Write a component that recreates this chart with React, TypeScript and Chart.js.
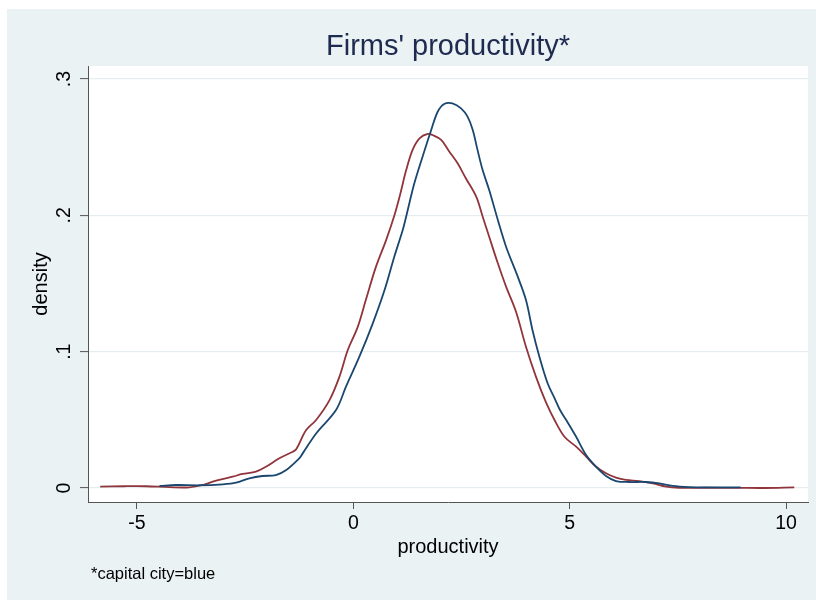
import React, { useEffect, useRef } from "react";
import { Chart, registerables } from "chart.js";

Chart.register(...registerables);

const chartTitle = "Firms' productivity*";
const xAxisTitle = "productivity";
const yAxisTitle = "density";
const noteText = "*capital city=blue";

const xTickValues = [-5, 0, 5, 10];
const xTickLabels = ["-5", "0", "5", "10"];
const yTickValues = [0, 0.1, 0.2, 0.3];
const yTickLabels = ["0", ".1", ".2", ".3"];

// capital city (blue)
const capitalX = [
  -4.48, -4.1, -3.56, -3.02, -2.71, -2.4, -2.1, -1.79, -1.56, -1.25, -1.17, -0.86, -0.4, -0.17, 0.14, 0.45,
  0.72, 0.95, 1.14, 1.22, 1.41, 1.6, 1.8, 1.95, 2.1, 2.29, 2.49, 2.64, 2.76, 2.87, 2.99, 3.14, 3.34, 3.53,
  3.8, 3.99, 4.14, 4.3, 4.49, 4.65, 4.78, 4.92, 5.15, 5.38, 5.61, 5.84, 6.07, 6.38, 6.76, 7.07, 7.38, 7.77,
  8.3, 8.95,
];
const capitalY = [
  0.0015, 0.0022, 0.002, 0.0027, 0.0039, 0.0071, 0.0088, 0.0095, 0.013, 0.0218, 0.0254, 0.04, 0.0572, 0.0743,
  0.0963, 0.1208, 0.145, 0.17, 0.189, 0.199, 0.2235, 0.243, 0.2626, 0.276, 0.2817, 0.2822, 0.2785, 0.2724,
  0.2626, 0.248, 0.233, 0.2186, 0.1966, 0.177, 0.155, 0.1379, 0.1159, 0.0963, 0.0768, 0.066, 0.057, 0.0499,
  0.0376, 0.0242, 0.0156, 0.0088, 0.0051, 0.0044, 0.0044, 0.0034, 0.0015, 0.0007, 0.0005, 0.0005,
];

// other cities (red)
const otherX = [
  -5.85, -5.3, -4.79, -4.25, -3.79, -3.48, -3.17, -2.79, -2.56, -2.25, -2.02, -1.71, -1.4, -1.32, -1.09,
  -0.86, -0.55, -0.32, -0.13, 0.1, 0.29, 0.52, 0.76, 0.95, 1.08, 1.22, 1.37, 1.53, 1.72, 1.83, 2.03, 2.22,
  2.41, 2.6, 2.84, 2.99, 3.14, 3.34, 3.53, 3.76, 3.99, 4.22, 4.45, 4.65, 4.88, 5.15, 5.38, 5.61, 5.84, 6.07,
  6.3, 6.61, 6.92, 7.23, 7.53, 8.15, 8.9, 9.5, 10.19,
];
const otherY = [
  0.001, 0.0013, 0.0013, 0.0006, 0.0005, 0.0022, 0.0054, 0.0083, 0.0103, 0.012, 0.0156, 0.0218, 0.0266,
  0.0284, 0.0425, 0.0499, 0.0645, 0.0817, 0.101, 0.118, 0.138, 0.162, 0.182, 0.2, 0.215, 0.233, 0.248, 0.2565,
  0.2597, 0.2589, 0.2553, 0.2467, 0.2382, 0.2272, 0.2137, 0.199, 0.1843, 0.1648, 0.1477, 0.1293, 0.1036,
  0.0817, 0.063, 0.0499, 0.0376, 0.0303, 0.023, 0.0156, 0.0108, 0.0076, 0.0059, 0.0051, 0.0034, 0.001, 0.0002,
  0.0002, 0.0001, 0.0, 0.0005,
];

const FONT = "'Liberation Sans', Arial, Helvetica, sans-serif";
const BG = "#eaf2f3";
const BLUE = "#1a476f";
const RED = "#90353b";
const AXIS = "#555555";

export default function App() {
  const canvasRef = useRef<HTMLCanvasElement | null>(null);

  useEffect(() => {
    const canvas = canvasRef.current;
    if (!canvas) return;

    const backgroundPlugin = {
      id: "stataBackground",
      beforeDraw(chart: any) {
        const { ctx, chartArea } = chart;
        ctx.save();
        ctx.fillStyle = BG;
        ctx.fillRect(7, 9, 809, 591);
        ctx.fillStyle = "#ffffff";
        ctx.fillRect(chartArea.left, chartArea.top, chartArea.right - chartArea.left, chartArea.bottom - chartArea.top);
        ctx.restore();
      },
      afterDraw(chart: any) {
        const { ctx } = chart;
        const yScale = chart.scales.y;
        ctx.save();
        ctx.fillStyle = "#000000";
        ctx.font = `19.5px ${FONT}`;
        ctx.textAlign = "center";
        ctx.textBaseline = "middle";
        yTickValues.forEach((v, i) => {
          const py = yScale.getPixelForValue(v);
          ctx.save();
          ctx.translate(65, py);
          ctx.rotate(-Math.PI / 2);
          ctx.fillText(yTickLabels[i], 0, 0);
          ctx.restore();
        });
        ctx.font = `16.5px ${FONT}`;
        ctx.textAlign = "left";
        ctx.fillText(noteText, 91, 574);
        ctx.restore();
      },
    };

    const chart = new Chart(canvas, {
      type: "line",
      data: {
        datasets: [
          {
            label: "capital city",
            data: capitalX.map((x, i) => ({ x, y: capitalY[i] })),
            borderColor: BLUE,
            borderWidth: 1.8,
            pointRadius: 0,
            tension: 0.35,
            fill: false,
          },
          {
            label: "other",
            data: otherX.map((x, i) => ({ x, y: otherY[i] })),
            borderColor: RED,
            borderWidth: 1.8,
            pointRadius: 0,
            tension: 0.35,
            fill: false,
          },
        ],
      },
      options: {
        animation: false,
        responsive: false,
        layout: { padding: { left: 7, top: 9, right: 8, bottom: 0 } },
        plugins: {
          legend: { display: false },
          tooltip: { enabled: false },
          title: {
            display: true,
            fullSize: false,
            text: chartTitle,
            color: "#1e2a4f",
            font: { family: FONT, size: 29, weight: "normal", lineHeight: 1.2 },
            padding: { top: 21, bottom: 1.2 },
          },
        },
        scales: {
          x: {
            type: "linear",
            min: -6.132,
            max: 10.508,
            afterBuildTicks: (scale: any) => {
              scale.ticks = xTickValues.map((v) => ({ value: v }));
            },
            afterFit: (scale: any) => {
              scale.height = 98;
            },
            ticks: {
              color: "#000000",
              font: { family: FONT, size: 19.5, lineHeight: 1.2 },
              padding: 3,
              maxRotation: 0,
              minRotation: 0,
              autoSkip: false,
              callback: (value: any) => {
                const i = xTickValues.indexOf(Number(value));
                return i >= 0 ? xTickLabels[i] : "";
              },
            },
            grid: {
              drawOnChartArea: false,
              drawTicks: true,
              tickLength: 7,
              tickColor: AXIS,
              tickWidth: 1,
            },
            border: { display: true, color: AXIS, width: 1 },
            title: {
              display: true,
              text: xAxisTitle,
              color: "#000000",
              font: { family: FONT, size: 20, lineHeight: 1.2 },
              padding: { top: 0, bottom: 41 },
            },
          },
          y: {
            type: "linear",
            min: -0.01027,
            max: 0.30954,
            afterBuildTicks: (scale: any) => {
              scale.ticks = yTickValues.map((v) => ({ value: v }));
            },
            afterFit: (scale: any) => {
              scale.width = 81;
            },
            ticks: { display: false },
            grid: {
              color: "#e6edf1",
              lineWidth: 1.2,
              drawTicks: true,
              tickLength: 8,
              tickColor: AXIS,
              tickWidth: 1,
            },
            border: { display: true, color: AXIS, width: 1 },
            title: {
              display: true,
              text: yAxisTitle,
              color: "#000000",
              font: { family: FONT, size: 20, lineHeight: 1.2 },
              padding: { top: 22, bottom: 0 },
            },
          },
        },
      },
      plugins: [backgroundPlugin],
    });

    return () => {
      chart.destroy();
    };
  }, []);

  return (
    <div style={{ position: "absolute", left: 0, top: 0, width: 816, height: 600 }}>
      <canvas ref={canvasRef} width={816} height={600} style={{ display: "block" }} />
    </div>
  );
}
